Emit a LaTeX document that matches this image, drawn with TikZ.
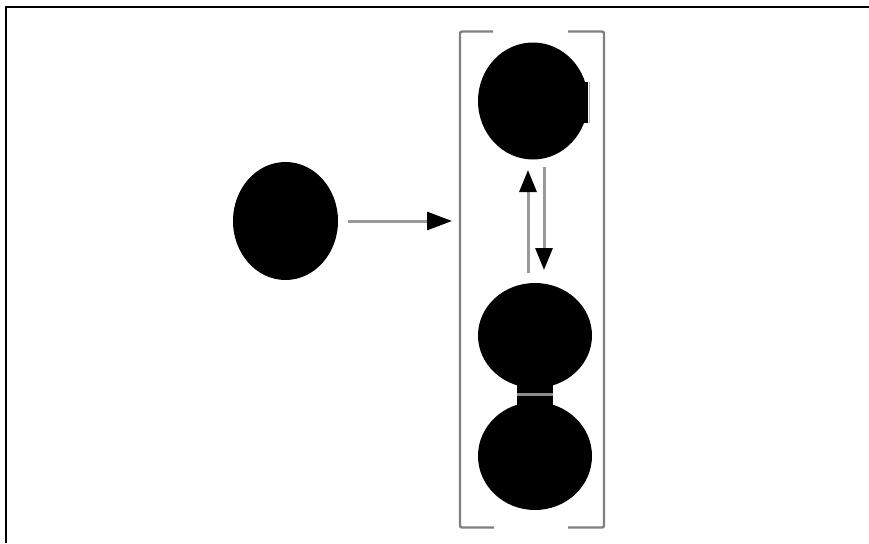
\documentclass[tikz,border=0pt]{standalone}
\usetikzlibrary{shapes.geometric,arrows.meta}
\begin{document}
\begin{tikzpicture}[x=1pt,y=-1pt,
  blob/.style={ellipse,fill=black,draw=none,inner sep=0pt,outer sep=0pt},
  conn/.style={draw=black!40,line width=3pt},
  hhead/.style={-{Triangle[length=25pt,width=18pt,color=black]}},
  vhead/.style={-{Triangle[length=22pt,width=17pt,color=black]}},
  bracketline/.style={draw=black!50,line width=2.4pt,rounded corners=2pt},
  frameline/.style={draw=black,line width=1.5pt}]
\useasboundingbox (0,0) rectangle (869,543);
\draw[frameline] (6,543) -- (6,7) -- (869,7);

% left item
\node[blob,minimum width=105pt,minimum height=118pt] (L) at (285.5,221) {};

% container
\node[inner sep=0pt,outer sep=0pt,minimum width=144pt,minimum height=496pt] (box) at (532,279.5) {};
\draw[bracketline] ([xshift=33pt]box.north west) -- (box.north west) -- (box.south west) -- ([xshift=34pt]box.south west);
\draw[bracketline] ([xshift=-36pt]box.north east) -- (box.north east) -- (box.south east) -- ([xshift=-36pt]box.south east);

% top item
\node[blob,minimum width=110pt,minimum height=117pt] (T) at (533,101) {};
\fill[black] (579,82) rectangle (588,123);
\draw[black!30,line width=1.5pt] (589.5,82) -- (589.5,123);

% bottom pair
\node[blob,minimum width=114pt,minimum height=105pt] (B1) at (535,335.5) {};
\node[blob,minimum width=114pt,minimum height=108pt] (B2) at (535,456) {};
\fill[black] (517,383) rectangle (553,407);
\draw[black!45,line width=3pt] (517,394) -- (553,394);

% connectors
\draw[conn,hhead,shorten <=10pt,shorten >=8pt] (L.east) -- (L.east -| box.west);
\draw[conn,vhead,shorten <=10pt,shorten >=10.5pt] ([xshift=-7pt]B1.north) -- ([xshift=-7pt]B1.north |- T.south);
\draw[conn,vhead,shorten <=7.5pt,shorten >=13pt] ([xshift=11pt]T.south) -- ([xshift=11pt]T.south |- B1.north);
\end{tikzpicture}
\end{document}
